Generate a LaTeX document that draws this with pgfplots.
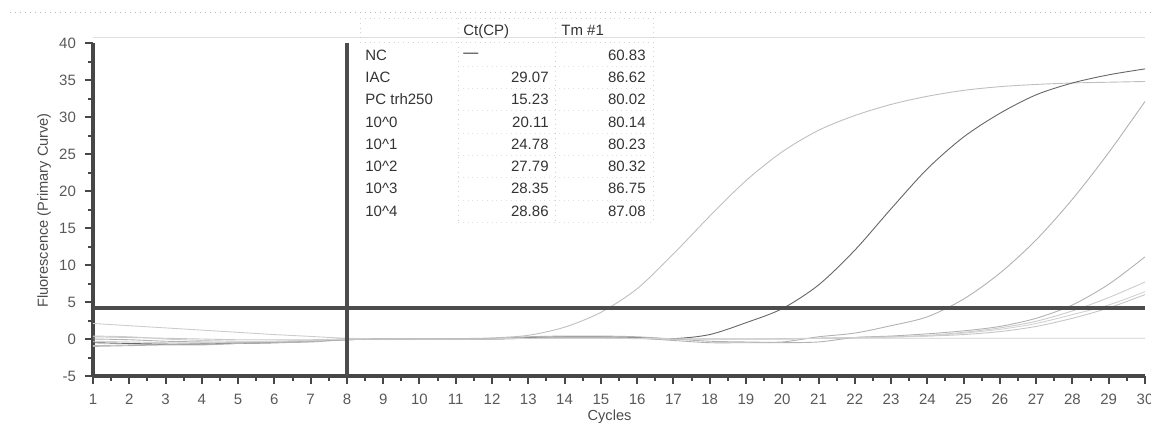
\documentclass[border=0pt]{standalone}
\usepackage{fontspec}
\setmainfont{Liberation Sans}
\usepackage{pgfplots}
\pgfplotsset{compat=1.18}

\begin{document}
\begin{tikzpicture}
\useasboundingbox (-46.5pt,-24pt) rectangle (529pt,188pt);
% frame lines of the software window
\draw[gray!55, dotted, line width=0.5pt] (-41.5pt,182pt) -- (529pt,182pt);
\draw[gray!25, line width=0.4pt] (0pt,169.5pt) -- (526pt,169.5pt);
\begin{axis}[
  at={(0,0)}, anchor=south west,
  scale only axis, width=526pt, height=166.5pt,
  xmin=1, xmax=30, ymin=-5, ymax=40,
  axis lines=left, axis line style={-, line width=1.6pt, black!72},
  xtick={1,...,30}, ytick={-5,0,...,40},
  minor x tick num=1, minor y tick num=1,
  tick align=outside,
  major tick length=4pt, minor tick length=2.5pt,
  every tick/.style={black!72, line width=1pt},
  ticklabel style={font=\fontsize{7.5}{9}\selectfont, text=black!65},
  xticklabel style={yshift=-1.5pt},
  yticklabel style={xshift=-1pt},
  /pgf/number format/assume math mode=true,
  xlabel={Cycles}, ylabel={Fluorescence (Primary Curve)},
  label style={font=\fontsize{7.3}{9}\selectfont, text=black!70},
  xlabel style={at={(axis description cs:0.491,-0.122)}, anchor=center},
  ylabel style={at={(axis description cs:-0.0466,0.497)}, anchor=center},
  clip=false,
  every axis plot/.append style={line width=0.45pt, smooth},
]
% NC
\addplot[gray!40] coordinates {
 (1,2.1)(2,1.8)(3,1.5)(4,1.2)(5,0.9)(6,0.6)(7,0.35)(8,0.1)(9,0.05)(10,0)
 (11,0)(12,0.05)(13,0.1)(14,0.1)(15,0.1)(16,0.05)(17,0)(18,0)(19,0)(20,0.05)
 (21,0.1)(22,0.1)(23,0.1)(24,0.1)(25,0.1)(26,0.1)(27,0.1)(28,0.1)(29,0.1)(30,0.1)};
% IAC
\addplot[gray!45] coordinates {
 (1,0.3)(2,0.2)(3,0.1)(4,0)(5,-0.1)(6,-0.1)(7,-0.1)(8,0)(9,0)(10,0)
 (11,0)(12,0)(13,0.1)(14,0.2)(15,0.2)(16,0.1)(17,0)(18,0)(19,0)(20,0)
 (21,0.1)(22,0.2)(23,0.3)(24,0.4)(25,0.6)(26,1.0)(27,1.7)(28,2.8)(29,4.2)(30,6.0)};
% PC trh250
\addplot[gray!50] coordinates {
 (1,-0.9)(2,-0.8)(3,-0.7)(4,-0.6)(5,-0.5)(6,-0.4)(7,-0.2)(8,0)(9,0)(10,0)
 (11,0.05)(12,0.15)(13,0.5)(14,1.6)(15,3.6)(16,6.8)(17,11.5)(18,16.6)(19,21.4)(20,25.3)
 (21,28.2)(22,30.2)(23,31.7)(24,32.8)(25,33.6)(26,34.1)(27,34.4)(28,34.6)(29,34.7)(30,34.8)};
% 10^0
\addplot[black!60] coordinates {
 (1,-0.5)(2,-0.6)(3,-0.7)(4,-0.7)(5,-0.6)(6,-0.5)(7,-0.3)(8,-0.1)(9,0)(10,0)
 (11,0)(12,0)(13,0.2)(14,0.3)(15,0.3)(16,0.2)(17,0.05)(18,0.6)(19,2.2)(20,4.1)
 (21,7.3)(22,12.0)(23,17.6)(24,23.0)(25,27.3)(26,30.5)(27,33.0)(28,34.6)(29,35.7)(30,36.5)};
% 10^1
\addplot[gray!60] coordinates {
 (1,0)(2,-0.1)(3,-0.3)(4,-0.4)(5,-0.5)(6,-0.5)(7,-0.4)(8,-0.1)(9,0)(10,-0.05)
 (11,-0.05)(12,0)(13,0.3)(14,0.4)(15,0.4)(16,0.3)(17,0)(18,-0.3)(19,-0.4)(20,-0.4)
 (21,0.3)(22,0.8)(23,1.8)(24,3.0)(25,5.4)(26,8.9)(27,13.4)(28,18.9)(29,25.2)(30,32.1)};
% 10^2
\addplot[gray!60] coordinates {
 (1,-1.0)(2,-0.9)(3,-0.8)(4,-0.8)(5,-0.6)(6,-0.5)(7,-0.3)(8,0)(9,0)(10,0)
 (11,0)(12,0)(13,0.1)(14,0.2)(15,0.2)(16,0.1)(17,-0.2)(18,-0.5)(19,-0.5)(20,-0.5)
 (21,-0.4)(22,0.2)(23,0.4)(24,0.7)(25,1.1)(26,1.7)(27,2.8)(28,4.6)(29,7.4)(30,11.1)};
% 10^3
\addplot[gray!40] coordinates {
 (1,0.4)(2,0.3)(3,0)(4,-0.2)(5,-0.3)(6,-0.3)(7,-0.2)(8,0)(9,0)(10,0)
 (11,0)(12,0)(13,0.1)(14,0.1)(15,0.1)(16,0.1)(17,0)(18,0)(19,0)(20,0)
 (21,0.1)(22,0.2)(23,0.3)(24,0.5)(25,0.9)(26,1.5)(27,2.4)(28,3.8)(29,5.6)(30,7.7)};
% 10^4
\addplot[gray!35] coordinates {
 (1,-0.3)(2,-0.4)(3,-0.5)(4,-0.5)(5,-0.4)(6,-0.3)(7,-0.2)(8,0)(9,0)(10,0)
 (11,0)(12,0)(13,0.1)(14,0.1)(15,0.1)(16,0.1)(17,0)(18,0)(19,0)(20,0)
 (21,0.1)(22,0.15)(23,0.25)(24,0.4)(25,0.8)(26,1.3)(27,2.1)(28,3.3)(29,4.6)(30,6.4)};
% threshold and start cycle
\addplot[black!70, line width=1.6pt, sharp plot] coordinates {(1,4.2)(30,4.2)};
\addplot[black!70, line width=1.8pt, sharp plot] coordinates {(8,-5)(8,40)};
\end{axis}
% result table
\begin{scope}[font=\fontsize{7.5}{9}\selectfont, text=black!80]
\draw[gray!35, dotted] (133.5pt,179pt) -- (280pt,179pt) -- (280pt,77pt);
\draw[gray!35, dotted] (133.5pt,167pt) -- (280pt,167pt);
\draw[gray!35, dotted] (133.5pt,179pt) -- (133.5pt,167pt);
\draw[gray!35, dotted] (182.5pt,179pt) -- (182.5pt,77pt);
\draw[gray!35, dotted] (231pt,179pt) -- (231pt,77pt);
\node[anchor=base west, inner sep=0pt] at (185pt,170.5pt) {Ct(CP)};
\node[anchor=base west, inner sep=0pt] at (234pt,170.5pt) {Tm \#1};
\foreach \name/\ct/\tm [count=\i from 0] in {
  NC/{}/60.83, IAC/29.07/86.62, PC trh250/15.23/80.02,
  10\textasciicircum 0/20.11/80.14, 10\textasciicircum 1/24.78/80.23,
  10\textasciicircum 2/27.79/80.32, 10\textasciicircum 3/28.35/86.75,
  10\textasciicircum 4/28.86/87.08} {
  \pgfmathsetmacro\yy{160.5-11.15*\i}
  \node[anchor=west, inner xsep=0pt] at (136pt,\yy pt) {\name};
  \node[anchor=east, inner xsep=0pt] at (228pt,\yy pt) {\ct};
  \node[anchor=east, inner xsep=0pt] at (276.5pt,\yy pt) {\tm};
  \draw[gray!25, dotted] (182.5pt,\yy pt-5.6pt) -- (280pt,\yy pt-5.6pt);
}
\node[anchor=west, inner xsep=0pt] at (185pt,160.5pt) {---};
\end{scope}
\end{tikzpicture}
\end{document}
